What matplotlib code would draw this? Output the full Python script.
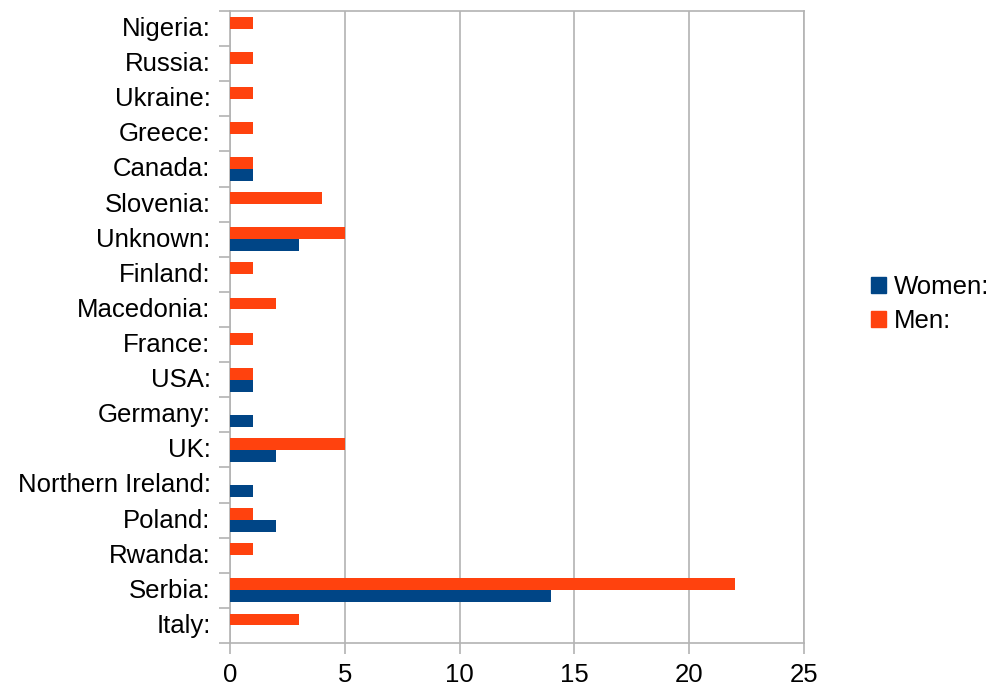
import numpy as np
import matplotlib.pyplot as plt
from matplotlib.patches import Patch
from matplotlib.transforms import ScaledTranslation

plt.rcParams['font.family'] = ['Liberation Sans', 'DejaVu Sans']

# countries listed top to bottom
countries = ['Nigeria:', 'Russia:', 'Ukraine:', 'Greece:', 'Canada:', 'Slovenia:',
             'Unknown:', 'Finland:', 'Macedonia:', 'France:', 'USA:', 'Germany:',
             'UK:', 'Northern Ireland:', 'Poland:', 'Rwanda:', 'Serbia:', 'Italy:']
women = [0, 0, 0, 0, 1, 0, 3, 0, 0, 0, 1, 1, 2, 1, 2, 0, 14, 0]
men = [1, 1, 1, 1, 1, 4, 5, 1, 2, 1, 1, 0, 5, 0, 1, 1, 22, 3]

c_women = '#004586'
c_men = '#ff420e'
grid_c = '#b3b3b3'

fig = plt.figure(figsize=(9.91, 6.89), dpi=100)
ax = fig.add_axes([230 / 991, 1 - 643 / 689, 574 / 991, 632 / 689])

n = len(countries)
y = np.arange(n)
h = 0.34
ax.barh(y - h / 2, men, height=h, color=c_men, zorder=3)
ax.barh(y + h / 2, women, height=h, color=c_women, zorder=3)

ax.set_ylim(n - 0.5, -0.5)
ax.set_xlim(0, 25)
ax.set_xticks(np.arange(0, 26, 5))
ax.tick_params(axis='x', labelsize=18.5, length=8, color=grid_c, width=1.2, pad=6.5)

# category labels centred, tick marks on the slot boundaries
ax.set_yticks(y)
ax.set_yticklabels(countries, fontsize=18.5)
ax.tick_params(axis='y', length=0, pad=14)
ax.set_yticks(np.arange(-0.5, n, 1), minor=True)
ax.tick_params(axis='y', which='minor', length=8, color=grid_c, width=1.2)

# nudge labels up so the capitals sit on the slot centre
up = ScaledTranslation(0, 2 / 100, fig.dpi_scale_trans)
for lab in ax.get_yticklabels():
    lab.set_transform(lab.get_transform() + up)

ax.grid(axis='x', color=grid_c, linewidth=1.2, zorder=0)
for s in ax.spines.values():
    s.set_color(grid_c)
    s.set_linewidth(1.2)

handles = [Patch(color=c_women, label='Women:'), Patch(color=c_men, label='Men:')]
fig.legend(handles=handles, loc='center left', bbox_to_anchor=(858 / 991, 1 - 304 / 689),
           frameon=False, fontsize=18.5, handlelength=0.58, handleheight=0.58,
           handletextpad=0.3, labelspacing=0.36, borderpad=0)

fig.savefig('out.png', dpi=100)
